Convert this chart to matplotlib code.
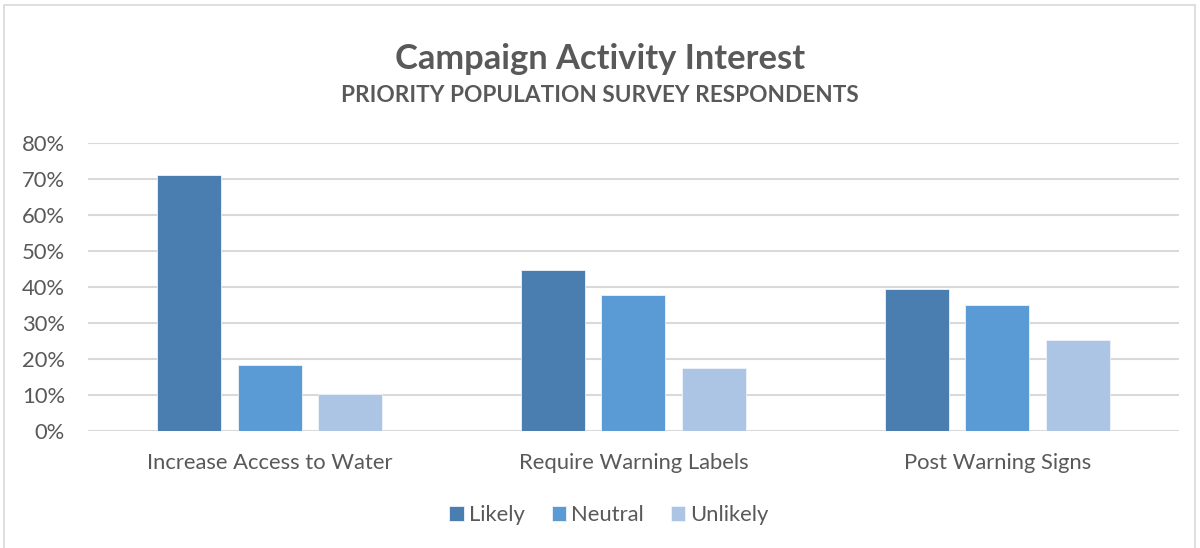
import numpy as np
import matplotlib.pyplot as plt
from matplotlib.patches import Rectangle
from matplotlib.ticker import PercentFormatter

categories = ['Increase Access to Water', 'Require Warning Labels', 'Post Warning Signs']
series = ['Likely', 'Neutral', 'Unlikely']
likely = [71.0, 44.7, 39.4]
neutral = [18.3, 37.7, 35.1]
unlikely = [10.4, 17.6, 25.4]
colors = ['#4a7eb0', '#5b9bd5', '#adc5e5']

text_color = '#595959'
plt.rcParams['font.family'] = ['Lato', 'DejaVu Sans']

fig = plt.figure(figsize=(12, 5.48), dpi=100)
ax = fig.add_axes([0.0733, 0.2135, 0.9092, 0.5255])

# outer chart border
fig.patches.append(Rectangle((0.003, -0.01), 0.993, 1.0, transform=fig.transFigure,
                             fill=False, edgecolor='#d9d9d9', linewidth=1.2))

x = np.arange(len(categories))
width = 0.176
step = 0.2215
for i, (name, vals) in enumerate(zip(series, [likely, neutral, unlikely])):
    ax.bar(x + (i - 1) * step, vals, width, color=colors[i], label=name,
           edgecolor='#eef4fb', linewidth=0.6, zorder=3)

ax.set_xlim(-0.5, len(categories) - 0.5)
ax.set_ylim(0, 80)
ax.set_yticks(np.arange(0, 81, 10))
ax.yaxis.set_major_formatter(PercentFormatter(decimals=0))
ax.grid(axis='y', color='#d9d9d9', linewidth=1.5, zorder=0)
for s in ax.spines.values():
    s.set_visible(False)
ax.tick_params(axis='y', length=0, pad=16.5, labelsize=15.8, labelcolor=text_color)
ax.set_xticks(x)
ax.set_xticklabels(categories)
ax.tick_params(axis='x', length=0, pad=16, labelsize=15.8, labelcolor=text_color)

fig.text(0.5, 0.893, 'Campaign Activity Interest', ha='center', va='center',
         fontsize=24.8, fontweight='bold', color=text_color)
fig.text(0.5, 0.825, 'PRIORITY POPULATION SURVEY RESPONDENTS', ha='center', va='center',
         fontsize=16.3, fontweight='bold', color=text_color)

fig.legend(loc='center', bbox_to_anchor=(0.5075, 0.06), ncol=3, frameon=False,
           fontsize=15.8, labelcolor=text_color, handlelength=0.65, handleheight=0.65,
           handletextpad=0.23, columnspacing=1.24)

fig.savefig('out.png', dpi=100, facecolor='white')
